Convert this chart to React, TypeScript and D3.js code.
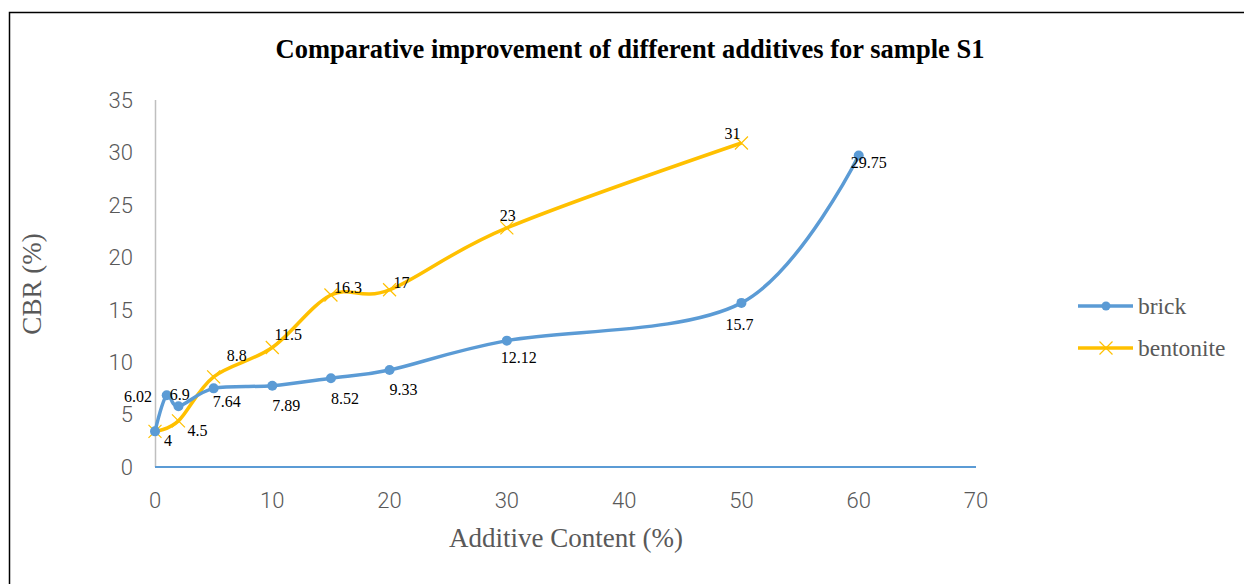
import * as d3 from "d3";
import { useEffect, useRef } from "react";

// additive content (%)
const brickX = [0, 1, 2, 5, 10, 15, 20, 30, 50, 60];
const brickY = [3.4, 6.85, 5.8, 7.5, 7.75, 8.47, 9.25, 12.05, 15.65, 29.7];
const brickLabels = ["6.02", "6.9", "", "7.64", "7.89", "8.52", "9.33", "12.12", "15.7", "29.75"];

const bentoniteX = [0, 2, 5, 10, 15, 20, 30, 50];
const bentoniteY = [3.4, 4.4, 8.6, 11.4, 16.4, 16.9, 22.8, 30.9];
const bentoniteLabels = ["4", "4.5", "8.8", "11.5", "16.3", "17", "23", "31"];

const xTicks = [0, 10, 20, 30, 40, 50, 60, 70];
const yTicks = [0, 5, 10, 15, 20, 25, 30, 35];

// label nudges (px) so they sit where excel put them
const brickNudge = [[-17, -29], [13, 5], [0, 0], [13, 19], [14, 25], [14, 26], [14, 25], [12, 22], [-2, 27], [10, 12]];
const bentNudge = [[13, 15], [19, 15], [23, -16], [16, -7], [17, -2], [12, -2], [1, -7], [-9, -4]];

const BLUE = "#5B9BD5";
const GOLD = "#FFC000";

const App = () => {
  const ref = useRef<SVGSVGElement | null>(null);

  useEffect(() => {
    const svg = d3.select(ref.current);
    svg.selectAll("*").remove();

    const x = d3.scaleLinear().domain([0, 70]).range([155, 976]);
    const y = d3.scaleLinear().domain([0, 35]).range([467, 100]);

    // outer frame (right/bottom are cut off in the picture)
    svg.append("path")
      .attr("d", "M9.5,600 L9.5,12.5 L1260,12.5")
      .attr("fill", "none")
      .attr("stroke", "#000")
      .attr("stroke-width", 1.5);

    svg.append("text")
      .attr("x", 630)
      .attr("y", 58)
      .attr("text-anchor", "middle")
      .attr("font-family", "'Liberation Serif', serif")
      .attr("font-weight", "bold")
      .attr("font-size", 26.5)
      .text("Comparative improvement of different additives for sample S1");

    const tickFont = "Roboto, 'Open Sans', sans-serif";

    // y axis
    svg.append("line")
      .attr("x1", 155.5).attr("x2", 155.5)
      .attr("y1", y(35)).attr("y2", y(0))
      .attr("stroke", "#BFBFBF").attr("stroke-width", 1.5);
    svg.append("g").selectAll("text").data(yTicks).join("text")
      .attr("x", 133)
      .attr("y", (d) => y(d))
      .attr("dy", "0.36em")
      .attr("text-anchor", "end")
      .attr("font-family", tickFont)
      .attr("font-weight", 300)
      .attr("font-size", 22)
      .attr("fill", "#595959")
      .text((d) => d);

    // x axis (blue in the source)
    svg.append("line")
      .attr("x1", x(0)).attr("x2", x(70))
      .attr("y1", y(0)).attr("y2", y(0))
      .attr("stroke", BLUE).attr("stroke-width", 2);
    svg.append("g").selectAll("text").data(xTicks).join("text")
      .attr("x", (d) => x(d))
      .attr("y", 500)
      .attr("dy", "0.36em")
      .attr("text-anchor", "middle")
      .attr("font-family", tickFont)
      .attr("font-weight", 300)
      .attr("font-size", 22)
      .attr("fill", "#595959")
      .text((d) => d);

    svg.append("text")
      .attr("x", 566)
      .attr("y", 547)
      .attr("text-anchor", "middle")
      .attr("font-family", "'Liberation Serif', serif")
      .attr("font-size", 27)
      .attr("fill", "#595959")
      .text("Additive Content (%)");

    svg.append("text")
      .attr("transform", "translate(41,284) rotate(-90)")
      .attr("text-anchor", "middle")
      .attr("font-family", "'Liberation Serif', serif")
      .attr("font-size", 27)
      .attr("fill", "#595959")
      .text("CBR (%)");

    const line = d3.line<[number, number]>()
      .x((d) => x(d[0]))
      .y((d) => y(d[1]))
      .curve(d3.curveCardinal.tension(0));

    const brick: [number, number][] = brickX.map((v, i) => [v, brickY[i]]);
    const bent: [number, number][] = bentoniteX.map((v, i) => [v, bentoniteY[i]]);

    const crossPath = (s: number) => `M${-s},${-s}L${s},${s}M${-s},${s}L${s},${-s}`;

    // bentonite
    svg.append("path")
      .attr("d", line(bent))
      .attr("fill", "none")
      .attr("stroke", GOLD)
      .attr("stroke-width", 3.5);
    svg.append("g").selectAll("path").data(bent).join("path")
      .attr("transform", (d) => `translate(${x(d[0])},${y(d[1])})`)
      .attr("d", crossPath(6.5))
      .attr("stroke", GOLD)
      .attr("stroke-width", 1.2);

    // brick
    svg.append("path")
      .attr("d", line(brick))
      .attr("fill", "none")
      .attr("stroke", BLUE)
      .attr("stroke-width", 3.5);
    svg.append("g").selectAll("circle").data(brick).join("circle")
      .attr("cx", (d) => x(d[0]))
      .attr("cy", (d) => y(d[1]))
      .attr("r", 5)
      .attr("fill", BLUE);

    const labelFont = "'Liberation Serif', serif";
    svg.append("g").selectAll("text").data(brick).join("text")
      .attr("x", (d, i) => x(d[0]) + brickNudge[i][0])
      .attr("y", (d, i) => y(d[1]) + brickNudge[i][1])
      .attr("text-anchor", "middle")
      .attr("font-family", labelFont)
      .attr("font-size", 16)
      .attr("fill", "#000")
      .text((d, i) => brickLabels[i]);
    svg.append("g").selectAll("text").data(bent).join("text")
      .attr("x", (d, i) => x(d[0]) + bentNudge[i][0])
      .attr("y", (d, i) => y(d[1]) + bentNudge[i][1])
      .attr("text-anchor", "middle")
      .attr("font-family", labelFont)
      .attr("font-size", 16)
      .attr("fill", "#000")
      .text((d, i) => bentoniteLabels[i]);

    // legend
    const legend = [
      { name: "brick", color: BLUE, y: 306, mark: "dot" },
      { name: "bentonite", color: GOLD, y: 348, mark: "cross" },
    ];
    const lg = svg.append("g").selectAll("g").data(legend).join("g")
      .attr("transform", (d) => `translate(1078,${d.y})`);
    lg.append("line")
      .attr("x1", 0).attr("x2", 55)
      .attr("stroke", (d) => d.color)
      .attr("stroke-width", 3.5);
    lg.filter((d) => d.mark === "dot").append("circle")
      .attr("cx", 28).attr("r", 4.5)
      .attr("fill", (d) => d.color);
    lg.filter((d) => d.mark === "cross").append("path")
      .attr("transform", "translate(28,0)")
      .attr("d", crossPath(6.5))
      .attr("stroke", (d) => d.color)
      .attr("stroke-width", 1.2);
    lg.append("text")
      .attr("x", 60)
      .attr("dy", "0.32em")
      .attr("font-family", labelFont)
      .attr("font-size", 23.5)
      .attr("fill", "#595959")
      .text((d) => d.name);
  }, []);

  return (
    <svg
      ref={ref}
      width={1244}
      height={584}
      style={{ position: "absolute", left: 0, top: 0, background: "#fff" }}
    />
  );
};

export default App;
